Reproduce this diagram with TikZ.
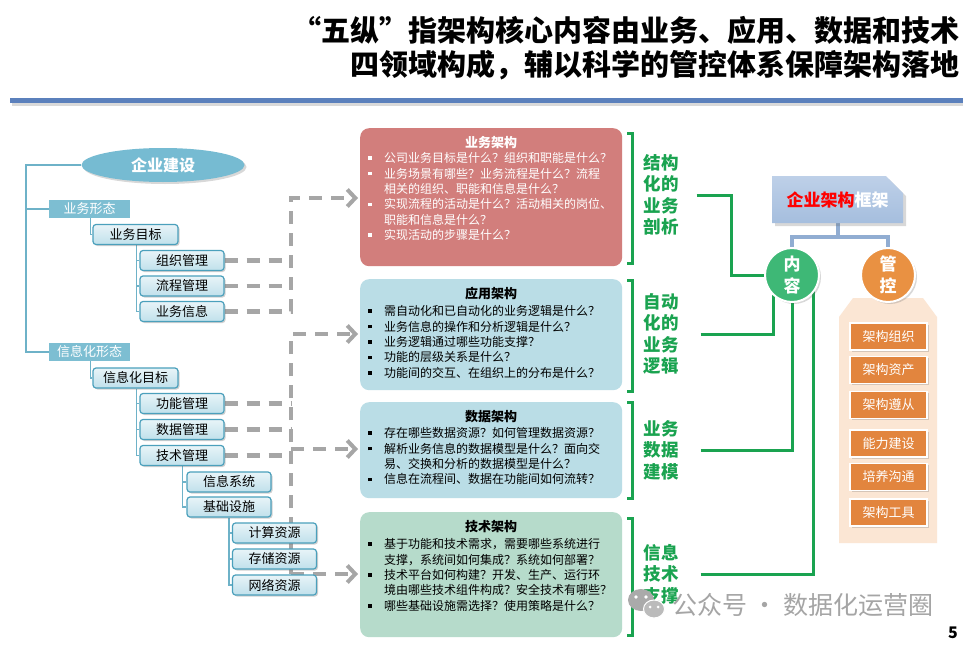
\documentclass[tikz,border=0pt]{standalone}
\usepackage{fontspec}
\setmainfont{Noto Sans CJK SC}
\usetikzlibrary{arrows.meta,shadows,shapes.misc,shapes.geometric,calc}
\pgfdeclarelayer{background}
\pgfdeclarelayer{bottom}
\pgfsetlayers{bottom,background,main}
\definecolor{treeline}{RGB}{110,178,200}
\definecolor{treeborder}{RGB}{75,160,188}
\definecolor{tbtop}{RGB}{232,244,248}
\definecolor{tbbot}{RGB}{192,224,235}
\definecolor{ellfill}{RGB}{118,187,210}
\definecolor{formfill}{RGB}{125,190,210}
\definecolor{dgray}{RGB}{166,166,166}
\definecolor{bizred}{RGB}{210,126,124}
\definecolor{appblue}{RGB}{186,221,230}
\definecolor{tecgreen}{RGB}{182,219,203}
\definecolor{brgreen}{RGB}{26,163,80}
\definecolor{titleblue}{RGB}{91,128,188}
\definecolor{fwtop}{RGB}{190,208,232}
\definecolor{fwbot}{RGB}{165,190,222}
\definecolor{fwline}{RGB}{145,173,210}
\definecolor{nrgreen}{RGB}{62,184,118}
\definecolor{gkorange}{RGB}{233,145,66}
\definecolor{panelc}{RGB}{251,230,212}
\definecolor{oboxc}{RGB}{226,133,62}
\definecolor{wmgray}{RGB}{165,165,165}
\newcommand\bsq{\rule[2.8pt]{3.6pt}{3.6pt}}
\newcommand\fsz[2]{\fontsize{#1}{#2}\selectfont}
\tikzset{
  treebox/.style={rectangle, rounded corners=3pt, draw=treeborder, line width=1.2pt,
    top color=tbtop, bottom color=tbbot, minimum width=84pt, minimum height=20pt,
    inner sep=0pt, font=\fsz{13}{15},
    drop shadow={shadow xshift=1.5pt, shadow yshift=-1.5pt, opacity=0.3, fill=black!60}},
  formbox/.style={rectangle, fill=formfill, minimum width=81pt, minimum height=18pt,
    inner sep=0pt, text=white, font=\fsz{13}{15}},
  treelink/.style={draw=treeline, line width=1.2pt},
  dashc/.style={draw=dgray, line width=4.5pt, dash pattern=on 13pt off 9pt},
  tipc/.style={-{Straight Barb[length=8pt,width=17pt,line width=4pt]}, shorten >=2pt},
  archbox/.style={rectangle, rounded corners=9pt, inner sep=0pt, anchor=north west},
  archtitle/.style={font=\bfseries\fsz{13}{15}, inner sep=0pt},
  archtext/.style={anchor=north west, inner sep=0pt, font=\fsz{12}{15.4}},
  gbr/.style={draw=brgreen, line width=3pt},
  glabel/.style={text=brgreen, font=\bfseries\fsz{17.5}{21.5}, align=center, inner sep=0pt},
  gconn/.style={draw=brgreen, line width=3pt},
  bconn/.style={draw=fwline, line width=4pt},
  obox/.style={rectangle, fill=oboxc, draw=white, line width=1.5pt, minimum width=77pt,
    minimum height=27pt, inner sep=0pt, text=white, font=\fsz{13}{15},
    drop shadow={shadow xshift=2pt, shadow yshift=-1.5pt, opacity=0.25, fill=black!60}},
  circ/.style={circle, minimum size=54pt, inner sep=0pt, draw=white, line width=2pt,
    text=white, font=\bfseries\fsz{17}{22}, align=center,
    drop shadow={shadow xshift=2pt, shadow yshift=-2pt, opacity=0.25, fill=black!60}}
}
\begin{document}
\begin{tikzpicture}[x=1pt,y=-1pt]
\path[use as bounding box] (0,0) rectangle (967,645);
\begin{pgfonlayer}{bottom}
\fill[white] (0,0) rectangle (967,645);
\end{pgfonlayer}

% title
\node[anchor=east, inner sep=0pt, font=\bfseries\fsz{29}{32}] (t1) at (960,30) {“五纵”指架构核心内容由业务、应用、数据和技术};
\node[anchor=east, inner sep=0pt, font=\bfseries\fsz{29}{32}] (t2) at (960,65) {四领域构成，辅以科学的管控体系保障架构落地};
\draw[line width=3pt, black!15] (12,104) -- (963,104);
\draw[line width=5pt, titleblue] (10,100) -- (963,100);

% left tree
\node[ellipse, minimum width=163pt, minimum height=34pt, inner sep=0pt, fill=ellfill,
  drop shadow={shadow xshift=2pt, shadow yshift=-2pt, opacity=0.25, fill=black!60},
  text=white, font=\bfseries\fsz{16}{18}] (qyjs) at (163,165) {企业建设};
\node[formbox] (ywxt) at (89.5,209) {业务形态};
\node[formbox] (xxhxt) at (89.5,352) {信息化形态};
\node[treebox, minimum width=85pt] (ywmb) at (135.5,234.5) {业务目标};
\node[treebox] (zzgl) at (182,260.5) {组织管理};
\node[treebox] (lcgl) at (182,286) {流程管理};
\node[treebox] (ywxx) at (182,311.5) {业务信息};
\node[treebox, minimum width=85pt] (xxhmb) at (135.5,378) {信息化目标};
\node[treebox] (gngl) at (182,403.5) {功能管理};
\node[treebox] (sjgl) at (182,429.5) {数据管理};
\node[treebox] (jsgl) at (182,455.5) {技术管理};
\node[treebox] (xxxt) at (229,482) {信息系统};
\node[treebox] (jcss) at (229,507) {基础设施};
\node[treebox] (jszy) at (274.5,533) {计算资源};
\node[treebox] (cczy) at (274.5,559) {存储资源};
\node[treebox] (wlzy) at (274.5,585) {网络资源};

% architecture boxes
\node[archbox, fill=bizred, minimum width=262pt, minimum height=138pt] (biz) at (360,128) {};
\node[archbox, fill=appblue, minimum width=262pt, minimum height=111pt] (app) at (360,279) {};
\node[archbox, fill=appblue, minimum width=262pt, minimum height=96pt] (dat) at (360,402) {};
\node[archbox, fill=tecgreen, minimum width=262pt, minimum height=125pt] (tec) at (360,512) {};

\node[archtitle, text=white] (bizh) at (491,143) {业务架构};
\node[archtext, text=white] (bizq) at (368,151.8) {%
\begin{tabular}{@{}p{16pt}@{}l@{}}
\bsq & 公司业务目标是什么？组织和职能是什么？\\
\bsq & 业务场景有哪些？业务流程是什么？流程\\
 & 相关的组织、职能和信息是什么？\\
\bsq & 实现流程的活动是什么？活动相关的岗位、\\
 & 职能和信息是什么？\\
\bsq & 实现活动的步骤是什么？
\end{tabular}};

\node[archtitle] (apph) at (491,294) {应用架构};
\node[archtext] (appq) at (368,304.8) {%
\begin{tabular}{@{}p{16pt}@{}l@{}}
\bsq & 需自动化和已自动化的业务逻辑是什么？\\
\bsq & 业务信息的操作和分析逻辑是什么？\\
\bsq & 业务逻辑通过哪些功能支撑？\\
\bsq & 功能的层级关系是什么？\\
\bsq & 功能间的交互、在组织上的分布是什么？
\end{tabular}};

\node[archtitle] (dath) at (491,417) {数据架构};
\node[archtext] (datq) at (368,426.8) {%
\begin{tabular}{@{}p{16pt}@{}l@{}}
\bsq & 存在哪些数据资源？如何管理数据资源？\\
\bsq & 解析业务信息的数据模型是什么？面向交\\
 & 易、交换和分析的数据模型是什么？\\
\bsq & 信息在流程间、数据在功能间如何流转？
\end{tabular}};

\node[archtitle] (tech) at (491,527) {技术架构};
\node[archtext] (tecq) at (368,537.8) {%
\begin{tabular}{@{}p{16pt}@{}l@{}}
\bsq & 基于功能和技术需求，需要哪些系统进行\\
 & 支撑，系统间如何集成？系统如何部署？\\
\bsq & 技术平台如何构建？开发、生产、运行环\\
 & 境由哪些技术组件构成？安全技术有哪些？\\
\bsq & 哪些基础设施需选择？使用策略是什么？
\end{tabular}};

% green brackets
\draw[gbr] (627,133) -- (632,133) -- (632,263) -- (627,263);
\draw[gbr] (627,280) -- (632,280) -- (632,391) -- (627,391);
\draw[gbr] (627,402) -- (632,402) -- (632,498) -- (627,498);
\draw[gbr] (627,518) -- (632,518) -- (632,635) -- (627,635);

\node[glabel] (lab1) at (661,195) {结构\\化的\\业务\\剖析};
\node[glabel] (lab2) at (661,334) {自动\\化的\\业务\\逻辑};
\node[glabel] (lab3) at (661,450) {业务\\数据\\建模};
\node[glabel] (lab4) at (661,574) {信息\\技术\\支撑};

% right side
\node[chamfered rectangle, chamfered rectangle corners=north east,
  chamfered rectangle xsep=9pt, chamfered rectangle ysep=9pt,
  minimum width=131pt, minimum height=47pt, inner sep=0pt,
  top color=fwtop, bottom color=fwbot,
  drop shadow={shadow xshift=3pt, shadow yshift=-3pt, opacity=0.25, fill=black!60},
  text=white, font=\bfseries\fsz{17}{19}] (fw) at (837.5,199.5) {\textcolor{red}{企业架构}框架};

\fill[panelc] (839,317) -- (853,298) -- (923,298) -- (937,317) -- (937,543) -- (839,543) -- cycle;

\node[circ, fill=nrgreen] (nr) at (792,275) {内\\容};
\node[circ, fill=gkorange] (gk) at (888,275) {管\\控};

\node[obox] (o1) at (888.5,336.5) {架构组织};
\node[obox] (o2) at (888.5,370) {架构资产};
\node[obox] (o3) at (888.5,405) {架构遵从};
\node[obox] (o4) at (888.5,443.5) {能力建设};
\node[obox] (o5) at (888.5,477) {培养沟通};
\node[obox] (o6) at (888.5,512.5) {架构工具};

% watermark
\fill[wmgray!95] (641,600) ellipse (13 and 11);
\fill[white] (636,597) circle (1.8) (646,597) circle (1.8);
\filldraw[fill=wmgray!75, draw=white, line width=1pt] (654,609) ellipse (10.5 and 9);
\fill[white] (650,607) circle (1.5) (658,607) circle (1.5);
\node[anchor=west, inner sep=0pt, text=wmgray, font=\fsz{25}{28}] (wm) at (672,605) {公众号 · 数据化运营圈};
\node[inner sep=0pt, font=\bfseries\fsz{16}{18}] (pn) at (953,633) {5};

% connectors on background
\coordinate (tl) at (26,0);
\coordinate (vx) at (291,0);
\coordinate (c1) at (291,198);
\coordinate (c2) at (291,334);
\coordinate (c3) at (291,449);
\coordinate (c4) at (291,574);
\coordinate (k1) at (731,0);
\coordinate (k2) at (773,0);
\coordinate (k4) at (813,0);
\coordinate (bj) at (837.5,237);
\coordinate (g1) at ([xshift=18pt]lab1.east);
\coordinate (g2) at ([xshift=22pt]lab2.east);
\coordinate (g3) at ([xshift=22pt]lab3.east);
\coordinate (g4) at ([xshift=22pt]lab4.east);
\begin{pgfonlayer}{background}
\draw[treelink] (qyjs.west) -- (qyjs.west -| tl) -- (xxhxt.west -| tl) -- (xxhxt.west);
\draw[treelink] (ywxt.west -| tl) -- (ywxt.west);
\draw[treelink] ([xshift=-2pt]ywmb.west |- ywxt.south) -- ([xshift=-2pt]ywmb.west) -- (ywmb.west);
\draw[treelink] ([xshift=-2pt]xxhmb.west |- xxhxt.south) -- ([xshift=-2pt]xxhmb.west) -- (xxhmb.west);
\draw[treelink] ([xshift=-3pt]zzgl.west |- ywmb.south) -- ([xshift=-3pt]ywxx.west) -- (ywxx.west);
\draw[treelink] ([xshift=-3pt]zzgl.west) -- (zzgl.west);
\draw[treelink] ([xshift=-3pt]lcgl.west) -- (lcgl.west);
\draw[treelink] ([xshift=-3pt]gngl.west |- xxhmb.south) -- ([xshift=-3pt]jsgl.west) -- (jsgl.west);
\draw[treelink] ([xshift=-3pt]gngl.west) -- (gngl.west);
\draw[treelink] ([xshift=-3pt]sjgl.west) -- (sjgl.west);
\draw[treelink] ([xshift=-4pt]xxxt.west |- jsgl.south) -- ([xshift=-4pt]jcss.west) -- (jcss.west);
\draw[treelink] ([xshift=-4pt]xxxt.west) -- (xxxt.west);
\draw[treelink] ([xshift=-3pt]jszy.west |- jcss.south) -- ([xshift=-3pt]wlzy.west) -- (wlzy.west);
\draw[treelink] ([xshift=-3pt]jszy.west) -- (jszy.west);
\draw[treelink] ([xshift=-3pt]cczy.west) -- (cczy.west);

\draw[dashc] (zzgl.east) -- (zzgl.east -| vx);
\draw[dashc] (lcgl.east) -- (lcgl.east -| vx);
\draw[dashc, tipc] (ywxx.east) -- (ywxx.east -| vx) -- (c1) -- (c1 -| biz.west);
\draw[dashc] (gngl.east) -- (gngl.east -| vx);
\draw[dashc] (sjgl.east) -- (sjgl.east -| vx);
\draw[dashc] (jsgl.east) -- (jsgl.east -| vx);
\draw[dashc, tipc] (c4) -- (c2) -- (c2 -| app.west);
\draw[dashc, tipc] (c3) -- (c3 -| dat.west);
\draw[dashc, tipc] (c4) -- (c4 -| tec.west);

\draw[gconn] (g1) -- (g1 -| k1) -- (nr.west -| k1) -- (nr.west);
\draw[gconn] (g2) -- (g2 -| k2) -- (k2 |- nr.center);
\draw[gconn] (g3) -| (nr.center);
\draw[gconn] (g4) -- (g4 -| k4) -- (k4 |- nr.center);

\draw[bconn] (fw.south) -- (bj);
\draw[bconn] (nr.center) -- (nr.center |- bj) -- (gk.center |- bj) -- (gk.center);
\end{pgfonlayer}
\end{tikzpicture}
\end{document}
